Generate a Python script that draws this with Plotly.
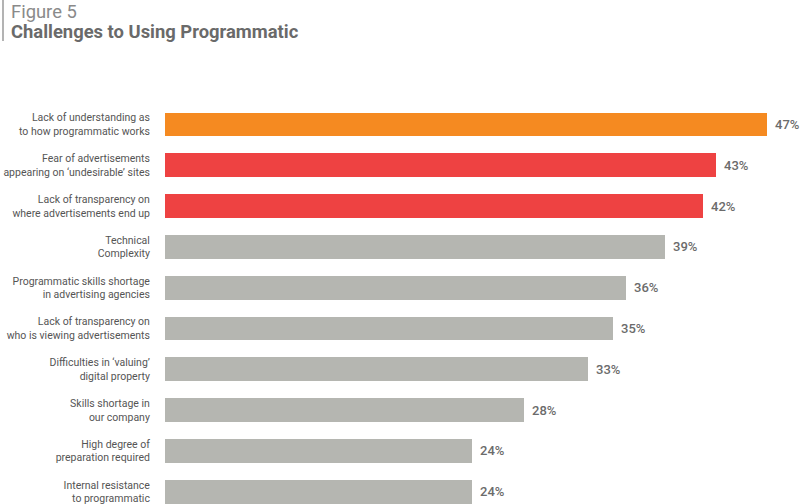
import plotly.graph_objects as go

categories = [
    "Lack of understanding as<br>to how programmatic works",
    "Fear of advertisements<br>appearing on ‘undesirable’ sites",
    "Lack of transparency on<br>where advertisements end up",
    "Technical<br>Complexity",
    "Programmatic skills shortage<br>in advertising agencies",
    "Lack of transparency on<br>who is viewing advertisements",
    "Difficulties in ‘valuing’<br>digital property",
    "Skills shortage in<br>our company",
    "High degree of<br>preparation required",
    "Internal resistance<br>to programmatic",
]
values = [47, 43, 42, 39, 36, 35, 33, 28, 24, 24]
value_labels = ["47%", "43%", "42%", "39%", "36%", "35%", "33%", "28%", "24%", "24%"]
bar_colors = ["#F58A21", "#EE4242", "#EE4242"] + ["#B5B6B1"] * 7

L, T, PW, PH = 165, 104, 635, 400

fig = go.Figure(go.Bar(
    x=values,
    y=categories,
    orientation="h",
    marker=dict(color=bar_colors, line=dict(width=0)),
    width=0.58,
    hoverinfo="skip",
))

for cat, v, lab in zip(categories, values, value_labels):
    fig.add_annotation(x=v, y=cat, text=lab, xanchor="left", yanchor="middle",
                       xshift=6, showarrow=False,
                       font=dict(family="Roboto", size=13, color="#6b6b6b", weight=500))

fig.update_layout(
    width=800, height=504,
    margin=dict(l=L, r=0, t=T, b=0, autoexpand=False),
    paper_bgcolor="white", plot_bgcolor="white",
    showlegend=False,
    bargap=0,
    xaxis=dict(range=[0, 49.57], visible=False, fixedrange=True, automargin=False),
    yaxis=dict(
        type="category",
        range=[9.3, -0.5],
        automargin=False,
        fixedrange=True,
        showgrid=False, zeroline=False, showline=False,
        ticks="outside", ticklen=12, tickcolor="rgba(0,0,0,0)",
        tickfont=dict(family="Roboto", size=10.5, color="#555555"),
    ),
)

fig.add_annotation(text="Figure 5", xref="paper", yref="paper",
                   x=-(L - 9) / PW, y=1 + (T + 1) / PH,
                   xanchor="left", yanchor="top", showarrow=False,
                   font=dict(family="Roboto", size=18.4, color="#8a8a8a"))
fig.add_annotation(text="<b>Challenges to Using Programmatic</b>", xref="paper", yref="paper",
                   x=-(L - 9) / PW, y=1 + (T - 19) / PH,
                   xanchor="left", yanchor="top", showarrow=False,
                   font=dict(family="Roboto", size=18.4, color="#6a6a6a"))
fig.add_shape(type="line", xref="paper", yref="paper",
              x0=-(L - 3) / PW, x1=-(L - 3) / PW, y0=1 + T / PH, y1=1 + (T - 41) / PH,
              line=dict(color="#9a9a9a", width=1.5))

fig.write_html("out.html", config={"displayModeBar": False},
               post_script="document.body.style.margin='0';document.body.style.overflow='hidden';")
